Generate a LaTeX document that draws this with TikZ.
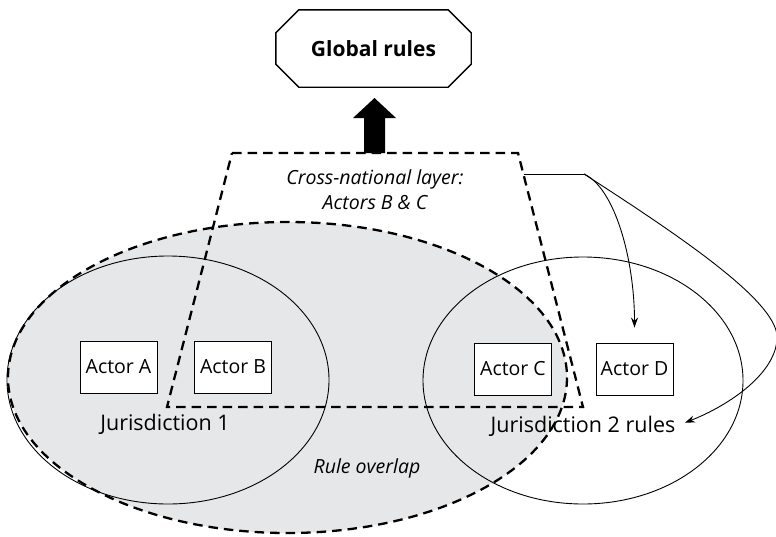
\documentclass[tikz,border=0pt]{standalone}
\usepackage{fontspec}
\setmainfont{Open Sans}
\usetikzlibrary{arrows.meta}
\definecolor{overlapgray}{RGB}{230,231,232}
\tikzset{
  dashline/.style={line width=2.3pt, dash pattern=on 9.5pt off 6pt},
  thinline/.style={line width=0.9pt},
  actor/.style={draw, line width=0.9pt, fill=white, minimum width=77pt, minimum height=52pt, inner sep=0pt, font=\fontsize{19.5}{22}\selectfont},
  lbl/.style={font=\fontsize{21.5}{24}\selectfont, inner sep=1pt},
  ilbl/.style={font=\fontsize{19.5}{25}\selectfont\itshape, inner sep=1pt, align=center},
  flow/.style={line width=0.9pt, -{Stealth[length=10pt,width=7pt]}},
}
\begin{document}
\begin{tikzpicture}[x=1pt,y=-1pt]
\useasboundingbox (0,0) rectangle (776,536);
% overlap region and jurisdictions
\fill[overlapgray] (287.5,377.5) ellipse [x radius=279.5, y radius=155.5];
\draw[thinline] (168,380) ellipse [x radius=161, y radius=124];
\draw[thinline] (583,380.5) ellipse [x radius=160, y radius=123.5];
\draw[dashline] (287.5,377.5) ellipse [x radius=279.5, y radius=155.5];
% cross-national layer
\coordinate (tl) at (232,153);
\coordinate (tr) at (518,153);
\coordinate (br) at (583,407);
\coordinate (bl) at (167,407);
\draw[dashline] (tl) -- (tr) -- (br) -- (bl) -- cycle;
% actors
\node[actor] (A) at (118.5,367) {Actor A};
\node[actor] (B) at (233,367) {Actor B};
\node[actor] (C) at (513,369) {Actor C};
\node[actor] (D) at (634.5,369) {Actor D};
% labels
\node[ilbl] (cn) at (375,190) {Cross-national layer:\\Actors B \& C};
\node[lbl] (j1) at (165,424) {Jurisdiction 1};
\node[ilbl] (ov) at (367,468) {Rule overlap};
\node[lbl] (j2) at (583,426) {Jurisdiction 2 rules};
% global rules
\node[font=\bfseries\fontsize{21}{25}\selectfont, minimum width=195pt, minimum height=77pt, inner sep=0pt] (gr) at (373.5,48.5) {Global rules};
\draw[line width=1.4pt]
  ([xshift=23pt]gr.north west) -- ([xshift=-23pt]gr.north east)
  -- ([yshift=-23pt]gr.north east) -- ([yshift=23pt]gr.south east)
  -- ([xshift=-23pt]gr.south east) -- ([xshift=23pt]gr.south west)
  -- ([yshift=23pt]gr.south west) -- ([yshift=-23pt]gr.north west) -- cycle;
% thick arrow up
\coordinate (ab) at (374.5,153);
\fill (ab) ++(-10.5,0) -- ++(0,-35) -- ++(-11,0) -- ++(21.5,-20) -- ++(21.5,20) -- ++(-11,0) -- ++(0,35) -- cycle;
% connectors
\coordinate (src) at (523.5,174);
\coordinate (split) at (584,174);
\draw[thinline] (src) -- (split);
\draw[flow, shorten >=15pt] (split) .. controls (615,188) and (634.5,260) .. (D.north);
\draw[flow, shorten >=9pt] (split) .. controls (680,236) and (775,300) .. (777,336)
  .. controls (778,372) and (730,405) .. (j2.east);
\end{tikzpicture}
\end{document}
